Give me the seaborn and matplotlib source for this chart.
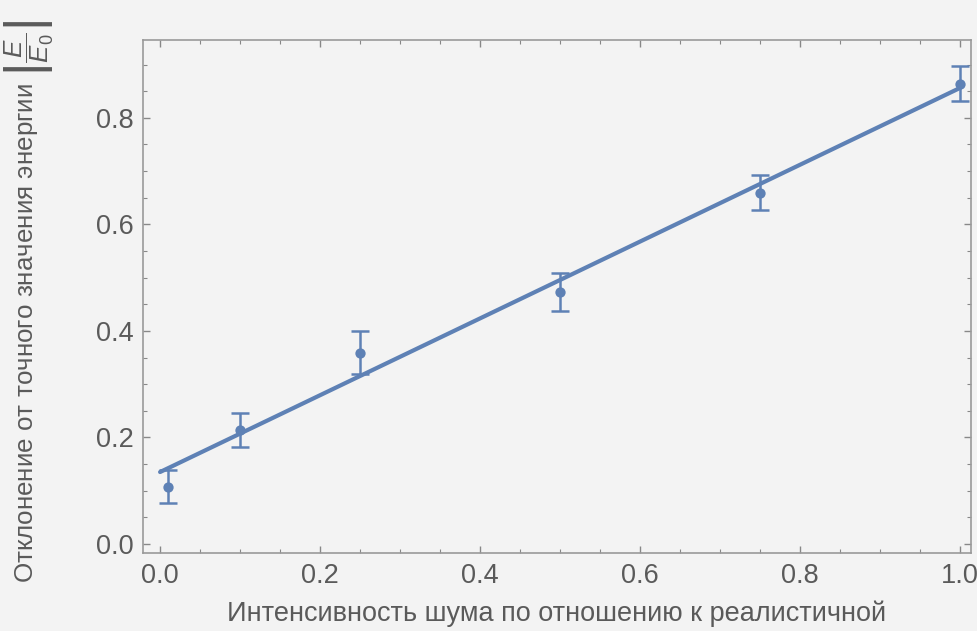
import numpy as np
import pandas as pd
import matplotlib
matplotlib.use("Agg")
import matplotlib.pyplot as plt
import seaborn as sns
from matplotlib.ticker import MultipleLocator

# данные
noise = [0.01, 0.1, 0.25, 0.5, 0.75, 1.0]
deviation = [0.107, 0.214, 0.359, 0.473, 0.659, 0.864]
err = [0.031, 0.032, 0.040, 0.035, 0.033, 0.033]

# линейная аппроксимация
fit_x = [0.0, 1.0]
fit_intercept = 0.135
fit_slope = 0.721

BLUE = "#5E81B5"
GRAY = "#5a5a5a"
BG = "#f3f3f3"

sns.set_theme(style="ticks")
plt.rcParams["font.family"] = ["Liberation Sans", "DejaVu Sans"]
plt.rcParams["mathtext.fontset"] = "custom"
plt.rcParams["mathtext.it"] = "Liberation Sans:italic"
plt.rcParams["mathtext.rm"] = "Liberation Sans"

df = pd.DataFrame({"x": noise, "y": deviation, "e": err})
fit_df = pd.DataFrame({"x": fit_x,
                       "y": [fit_intercept + fit_slope * v for v in fit_x]})

fig = plt.figure(figsize=(9.77, 6.31), dpi=100, facecolor=BG)
ax = fig.add_axes([0.1464, 0.1236, 0.8475, 0.813])
ax.set_facecolor(BG)

sns.lineplot(data=fit_df, x="x", y="y", color=BLUE, linewidth=3.0, ax=ax, zorder=3)
ax.errorbar(df["x"], df["y"], yerr=df["e"], fmt="none", ecolor=BLUE,
            elinewidth=1.8, capsize=6.5, capthick=1.8, zorder=2)
sns.scatterplot(data=df, x="x", y="y", color=BLUE, s=55, edgecolor=BLUE,
                linewidth=0, ax=ax, zorder=4)

ax.set_xlim(-0.0213, 1.0138)
ax.set_ylim(-0.017, 0.946)
ax.xaxis.set_major_locator(MultipleLocator(0.2))
ax.xaxis.set_minor_locator(MultipleLocator(0.05))
ax.yaxis.set_major_locator(MultipleLocator(0.2))
ax.yaxis.set_minor_locator(MultipleLocator(0.05))
ax.xaxis.set_major_formatter(lambda v, p: f"{v:.1f}")
ax.yaxis.set_major_formatter(lambda v, p: f"{v:.1f}")

ax.tick_params(which="both", direction="in", top=True, right=True,
               colors="#888888", labelcolor=GRAY, labelsize=19.5)
ax.tick_params(which="major", length=5, width=1)
ax.tick_params(which="minor", length=3, width=0.8)
ax.tick_params(axis="x", pad=7)
ax.tick_params(axis="y", pad=7)
for s in ax.spines.values():
    s.set_color("#999999")
    s.set_linewidth(1.2)

ax.set_xlabel("Интенсивность шума по отношению к реалистичной",
              fontsize=19.5, color=GRAY)
ax.xaxis.set_label_coords(0.5, -0.093)
ax.set_ylabel(r"Отклонение от точного значения энергии $\left|\dfrac{E}{E_0}\right|$",
              fontsize=18.7, color=GRAY)
ax.yaxis.set_label_coords(-0.106, 0.49)

fig.savefig("out.png", dpi=100, facecolor=BG)
